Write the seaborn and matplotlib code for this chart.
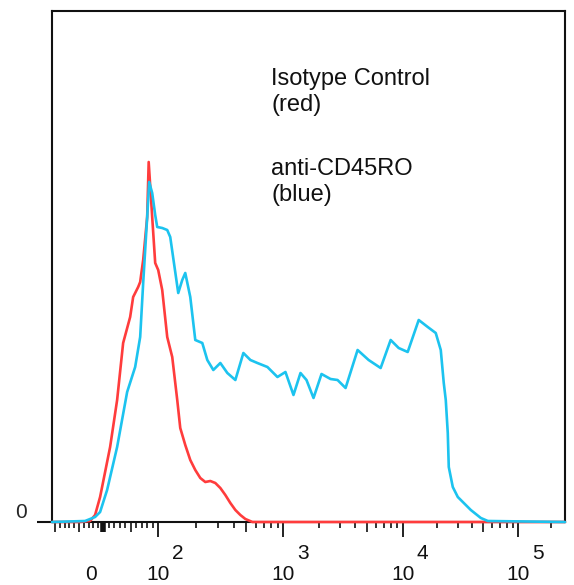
import numpy as np
import pandas as pd
import matplotlib
matplotlib.use("Agg")
import matplotlib.pyplot as plt
from matplotlib import transforms
import seaborn as sns

# histogram data, x in display channels (0-1024), y in event counts
red_ch = [0, 56, 76, 86, 96, 106, 116, 130, 142, 156, 162, 172, 176, 182, 190, 193,
          200, 206, 212, 220, 230, 240, 250, 256, 266, 276, 286, 296, 306, 316, 326,
          336, 346, 356, 366, 376, 386, 400, 1024]
red_count = [0, 0, 1, 7, 25, 50, 75, 122, 179, 205, 225, 235, 240, 262, 305, 360,
             305, 259, 252, 232, 185, 165, 122, 94, 77, 62, 52, 44, 40, 41, 39,
             34, 27, 19, 12, 7, 3, 0, 0]

blue_ch = [0, 66, 86, 96, 110, 130, 150, 166, 176, 182, 190, 194, 200, 206, 210, 220,
           230, 236, 244, 252, 260, 266, 276, 286, 300, 310, 322, 336, 350, 366, 382,
           396, 410, 430, 450, 466, 482, 496, 508, 522, 538, 556, 570, 586, 610, 632,
           656, 676, 692, 710, 732, 750, 766, 776, 782, 786, 790, 792, 800, 810, 822,
           836, 856, 870, 1024]
blue_count = [0, 1, 5, 10, 32, 75, 130, 155, 185, 239, 305, 340, 329, 307, 295, 294,
              292, 285, 257, 229, 242, 249, 225, 182, 179, 162, 152, 159, 149, 142, 169,
              162, 159, 155, 145, 150, 127, 149, 142, 124, 148, 143, 142, 134, 172, 162,
              154, 182, 174, 170, 202, 195, 189, 172, 139, 122, 89, 55, 35, 25, 19,
              12, 4, 1, 0]

decades = [2, 3, 4, 5]


# logicle-like display: channel position of a fluorescence value
def chan(v):
    if v >= 100:
        return float(np.interp(np.log10(v), [2, 3, 4, 5, 5.301], [212, 462, 700, 930, 996]))
    if v >= 0:
        return 102 + v * 1.1
    return 102 + v * 0.96


df_red = pd.DataFrame({"ch": red_ch, "count": red_count})
df_blue = pd.DataFrame({"ch": blue_ch, "count": blue_count})

sns.set_style("white")
plt.rcParams["font.family"] = ["Liberation Sans", "DejaVu Sans"]

fig = plt.figure(figsize=(5.74, 5.85), dpi=100)
ax = fig.add_axes([52 / 574, 63 / 585, 513 / 574, 511 / 585])

sns.lineplot(data=df_red, x="ch", y="count", color="#ff3c3c", linewidth=1.9, ax=ax,
             clip_on=False, zorder=3)
sns.lineplot(data=df_blue, x="ch", y="count", color="#1cc3ef", linewidth=1.9, ax=ax,
             clip_on=False, zorder=4)

ax.set_xlim(0, 1024)
ax.set_ylim(0, 511)
ax.set_xlabel("")
ax.set_ylabel("")

for s in ax.spines.values():
    s.set_color("#111111")
    s.set_linewidth(1.5)

# major ticks at decades
ax.set_xticks([chan(10 ** d) for d in decades])
ax.set_xticklabels([])
ax.tick_params(axis="x", which="major", direction="out", length=10.8, width=1.3,
               color="#111111", bottom=True)

# minor ticks: linear part around zero and log part above 100
minor_vals = [-100, -90, -80, -70, -60, -50, -40, -30, -20, -10, 0,
              10, 20, 30, 40, 50, 60, 70, 80, 90]
for d in [2, 3, 4]:
    minor_vals += [k * 10 ** d for k in range(2, 10)]
minor_vals.append(200000)
ax.set_xticks([chan(v) for v in minor_vals], minor=True)
ax.tick_params(axis="x", which="minor", direction="out", length=4.3, width=1.2,
               color="#111111", bottom=True)
for v, t in zip(minor_vals, ax.xaxis.get_minor_ticks()):
    if v in (-100, -50, 0, 50, 500, 5000, 50000):
        t.tick1line.set_markersize(7.2)
    if v == 0:
        t.tick1line.set_markeredgewidth(4)

# decade labels drawn as "10" with a raised exponent of the same size
lab_tr = ax.get_xaxis_transform()
sup_tr = transforms.offset_copy(lab_tr, fig=fig, x=14, y=21, units="dots")
base_y = -58 / 511
for d in decades:
    ax.text(chan(10 ** d), base_y, "10", ha="center", va="baseline", fontsize=15,
            color="#111111", transform=lab_tr)
    ax.text(chan(10 ** d), base_y, str(d), ha="left", va="baseline", fontsize=15,
            color="#111111", transform=sup_tr)
ax.text(78, base_y, "0", ha="center", va="baseline", fontsize=15, color="#111111",
        transform=lab_tr)

# y axis: only zero
ax.set_yticks([0])
ax.set_yticklabels(["0"])
ax.tick_params(axis="y", direction="out", length=10.8, width=1.5, color="#111111",
               pad=7, labelsize=15, left=True)
plt.setp(ax.get_yticklabels(), va="bottom")

ax.text(438, 454, "Isotype Control\n(red)", ha="left", va="top", fontsize=17,
        color="#111111", linespacing=1.25)
ax.text(438, 364, "anti-CD45RO\n(blue)", ha="left", va="top", fontsize=17,
        color="#111111", linespacing=1.25)

fig.savefig("out.png", dpi=100)
